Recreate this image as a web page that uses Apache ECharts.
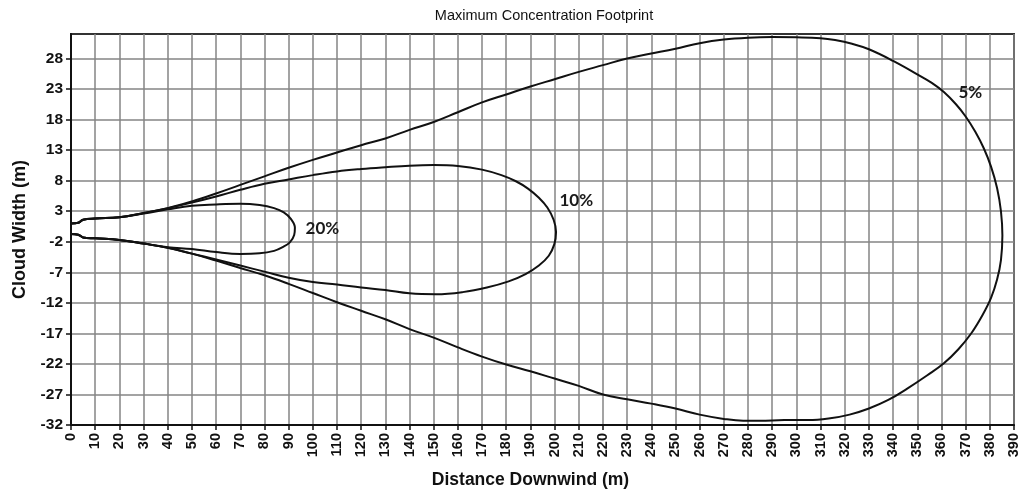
<!DOCTYPE html>
<html>
<head>
<meta charset="utf-8">
<title>Maximum Concentration Footprint</title>
<script src="https://cdn.jsdelivr.net/npm/echarts@6/dist/echarts.min.js"></script>
<style>
  html, body { margin: 0; padding: 0; background: #fff; }
  #chart { width: 1034px; height: 494px; }
</style>
</head>
<body>
<div id="chart"></div>
<script>
// Text
const chartTitle = 'Maximum Concentration Footprint';
const xAxisTitle = 'Distance Downwind (m)';
const yAxisTitle = 'Cloud Width (m)';

// Axis ranges and ticks
const xRange = [0, 390];
const xTickStep = 10;
const yRange = [-32, 32];
const yTickValues = [-32, -27, -22, -17, -12, -7, -2, 3, 8, 13, 18, 23, 28];

// Footprint contours, [distance downwind, cloud width] traced around each outline
const contour20 = [
  [0, 1.0], [3, 1.1], [5, 1.6], [10, 1.8], [20, 2.0], [30, 2.6], [40, 3.3], [50, 3.9],
  [60, 4.1], [70, 4.2], [78, 4.0], [84, 3.5], [88, 2.8], [91, 1.7], [92.6, 0.3],
  [92.3, -0.9], [90.5, -2.1], [87.5, -2.9], [84, -3.5], [78, -3.9], [70, -4.0], [60, -3.7],
  [50, -3.2], [40, -2.9], [30, -2.3], [20, -1.7], [10, -1.45], [5, -1.3], [3, -0.85], [0, -0.75]
];

const contour10 = [
  [0, 1.0], [3, 1.1], [5, 1.6], [10, 1.8], [20, 2.0], [30, 2.7], [40, 3.5], [50, 4.4],
  [60, 5.4], [70, 6.5], [80, 7.5], [90, 8.2], [100, 8.9], [110, 9.5], [120, 9.9],
  [130, 10.2], [140, 10.45], [150, 10.55], [160, 10.4], [170, 9.8], [178, 8.9], [184, 7.9],
  [189, 6.7], [193.5, 5.2], [197, 3.6], [199.6, 1.6], [200.6, -0.4], [199.9, -2.4],
  [197.6, -4.3], [193.5, -5.9], [188, -7.3], [181, -8.5], [172, -9.5], [162, -10.25],
  [151, -10.6], [140, -10.45], [130, -9.9], [120, -9.5], [110, -9.0], [100, -8.6],
  [90, -7.9], [80, -6.9], [70, -5.9], [60, -4.9], [50, -3.95], [40, -3.0], [30, -2.3],
  [20, -1.7], [10, -1.45], [5, -1.3], [3, -0.85], [0, -0.75]
];

const contour5 = [
  [0, 1.0], [3, 1.1], [5, 1.6], [10, 1.8], [20, 2.0], [30, 2.7], [40, 3.5], [50, 4.6],
  [60, 5.9], [70, 7.3], [80, 8.7], [90, 10.1], [100, 11.4], [110, 12.6], [120, 13.8],
  [130, 14.9], [140, 16.3], [150, 17.6], [160, 19.2], [170, 20.8], [180, 22.1], [190, 23.4],
  [200, 24.6], [210, 25.8], [220, 26.9], [230, 28.0], [240, 28.8], [250, 29.6], [260, 30.5],
  [270, 31.1], [280, 31.4], [290, 31.5], [300, 31.45], [310, 31.3], [316, 31.0], [323, 30.4],
  [330, 29.5], [340, 27.6], [350, 25.4], [356, 24.0], [361, 22.5], [366, 20.5], [370, 18.5],
  [374, 16.0], [377.5, 13.3], [380.5, 10.3], [383, 6.8], [384.6, 3.0], [385.2, -1.0],
  [384.6, -5.0], [383, -8.2], [380.5, -11.2], [377, -14.0], [372.5, -16.9], [367, -19.6],
  [361, -21.9], [354, -23.9], [346, -26.0], [338, -27.9], [330, -29.3], [322, -30.3],
  [314, -30.9], [305, -31.2], [295, -31.2], [285, -31.3], [278, -31.3], [270, -31.0],
  [260, -30.3], [250, -29.3], [240, -28.5], [230, -27.8], [220, -27.0],
  [210, -25.6], [200, -24.4], [190, -23.2], [180, -22.1], [170, -20.8], [160, -19.3],
  [150, -17.7], [140, -16.3], [130, -14.7], [120, -13.3], [110, -11.9], [100, -10.4],
  [90, -8.9], [80, -7.5], [70, -6.3], [60, -5.1], [50, -3.95], [40, -3.0], [30, -2.3],
  [20, -1.7], [10, -1.45], [5, -1.3], [3, -0.85], [0, -0.75]
];

// Contour level tags and the point each tag starts from
const levelNames = ['20%', '10%', '5%'];
const levelTagAt = [[97, 0.1], [202, 4.7], [367, 22.5]];

const FONT = '"Liberation Sans", Arial, sans-serif';
const INK = '#111';

const chart = echarts.init(document.getElementById('chart'), null, { renderer: 'canvas' });

function contourSeries(name, points) {
  return {
    name: name,
    type: 'line',
    data: points,
    showSymbol: false,
    smooth: 0.4,
    lineStyle: { color: INK, width: 2 },
    z: 3,
    silent: true
  };
}

chart.setOption({
  animation: false,
  backgroundColor: '#fff',
  graphic: [{
    type: 'text',
    x: 544,
    y: 16,
    style: {
      text: chartTitle,
      fontFamily: FONT,
      fontSize: 14.5,
      fill: INK,
      align: 'center',
      verticalAlign: 'middle'
    }
  }],
  grid: {
    left: 71,
    right: 20,
    top: 34,
    bottom: 67,
    show: true,
    borderColor: '#333',
    borderWidth: 2,
    backgroundColor: '#fff'
  },
  xAxis: {
    type: 'value',
    min: xRange[0],
    max: xRange[1],
    interval: xTickStep,
    name: xAxisTitle,
    nameLocation: 'middle',
    nameGap: 46,
    nameTextStyle: {
      fontFamily: FONT, fontSize: 17.5, fontWeight: 'bold', color: INK,
      padding: [0, 24, 0, 0]
    },
    axisLine: { show: true, onZero: false, lineStyle: { color: INK, width: 2 } },
    axisTick: { show: true, length: 5, lineStyle: { color: INK, width: 1.5 } },
    axisLabel: {
      rotate: 90,
      margin: 8,
      fontFamily: FONT, fontSize: 14.5, fontWeight: 'bold', color: INK
    },
    splitLine: { show: true, lineStyle: { color: '#858585', width: 1.5 } }
  },
  yAxis: {
    type: 'value',
    min: yRange[0],
    max: yRange[1],
    name: yAxisTitle,
    nameLocation: 'middle',
    nameGap: 42,
    nameRotate: 90,
    nameTextStyle: { fontFamily: FONT, fontSize: 18, fontWeight: 'bold', color: INK },
    axisLine: { show: true, onZero: false, lineStyle: { color: INK, width: 2 } },
    axisTick: { show: true, length: 5, customValues: yTickValues, lineStyle: { color: INK, width: 1.5 } },
    axisLabel: {
      customValues: yTickValues,
      margin: 8,
      fontFamily: FONT, fontSize: 15.5, fontWeight: 'bold', color: INK
    },
    splitLine: { show: true, lineStyle: { color: '#858585', width: 1.5 } }
  },
  series: [
    contourSeries('5%', contour5),
    contourSeries('10%', contour10),
    contourSeries('20%', contour20),
    {
      name: 'levels',
      type: 'scatter',
      symbolSize: 0,
      silent: true,
      z: 4,
      itemStyle: { opacity: 1 },
      data: levelTagAt.map((p, i) => ({ value: p, name: levelNames[i] })),
      label: {
        show: true,
        position: 'right',
        distance: 0,
        formatter: (p) => p.name,
        fontFamily: 'Lato, "Open Sans", sans-serif',
        fontSize: 17,
        fontWeight: 'bold',
        color: '#1a1a1a',
        opacity: 1
      }
    }
  ]
});
</script>
</body>
</html>
